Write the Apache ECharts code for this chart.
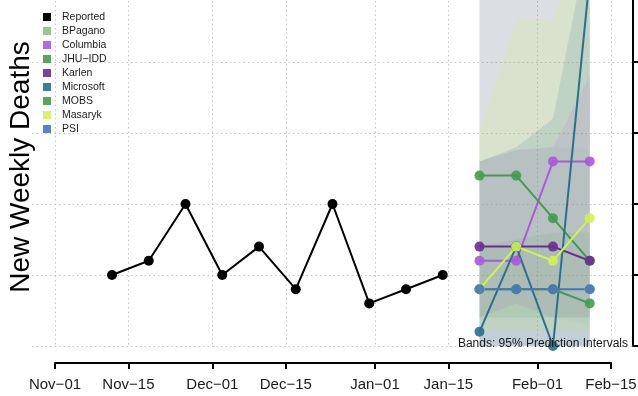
<!DOCTYPE html>
<html><head><meta charset="utf-8">
<script src="https://cdn.jsdelivr.net/npm/echarts@6/dist/echarts.min.js"></script>
<style>html,body{margin:0;padding:0;background:#fff}#c{width:638px;height:396px}</style>
</head><body><div id="c"></div>
<script>
// ---------- data ----------
const tickDates = ['2020-11-01','2020-11-15','2020-12-01','2020-12-15','2021-01-01','2021-01-15','2021-02-01','2021-02-15'];
const tickLabels = ['Nov\u221201','Nov\u221215','Dec\u221201','Dec\u221215','Jan\u221201','Jan\u221215','Feb\u221201','Feb\u221215'];
const yTickStep = 5;
const yMax = 30;

const reportedDates = ['2020-11-12','2020-11-19','2020-11-26','2020-12-03','2020-12-10','2020-12-17','2020-12-24','2020-12-31','2021-01-07','2021-01-14'];
const reported = [5, 6, 10, 5, 7, 4, 10, 3, 4, 5];

const forecastDates = ['2021-01-21','2021-01-28','2021-02-04','2021-02-11'];
const models = ['BPagano','Columbia','JHU\u2212IDD','Karlen','Microsoft','MOBS','Masaryk','PSI'];
const fcBPagano   = [4, 4, 4, 4];
const fcColumbia  = [6, 6, 13, 13];
const fcJHU       = [12, 12, 9, 6];
const fcKarlen    = [7, 7, 7, 6];
const fcMicrosoft = [1, 7, 0, 26];
const fcMOBS      = [4, 4, 4, 3];
const fcMasaryk   = [4, 7, 6, 9];
const fcPSI       = [4, 4, 4, 4];

// 95% prediction intervals (lower / upper)
const loPSI = [0, 0, 0, 0],          hiPSI = [45, 45, 45, 45];
const loKarlen = [0, 0, 0, 0],       hiKarlen = [45, 45, 45, 45];
const loBPagano = [0, 0, 0, 0],      hiBPagano = [45, 45, 45, 45];
const loMasaryk = [1.1, 1.1, 1.1, 1.1], hiMasaryk = [15, 23, 23, 30];
const loMicrosoft = [0, 0, 0, 0],    hiMicrosoft = [13, 14, 16, 29];
const loColumbia = [2, 3, 2, 2],     hiColumbia = [13, 13.8, 14, 19];
const loJHU = [2, 2, 2, 1.5],        hiJHU = [13, 13.8, 14, 13.8];
const loMOBS = [2, 2, 2, 2],         hiMOBS = [7, 7.5, 8, 8];

// ---------- styles ----------
const colors = {
  'Reported':'#000000','BPagano':'#8fbc8f','Columbia':'#a95ad8','JHU\u2212IDD':'#439b52',
  'Karlen':'#6a2d90','Microsoft':'#2a708c','MOBS':'#439b52','Masaryk':'#d2f05a','PSI':'#4b74bb'
};
const FONT = 'Liberation Sans, Arial, Helvetica, sans-serif';

// ---------- build ----------
const t = d => Date.parse(d);
const tickTs = tickDates.map(t);
const span = tickTs[tickTs.length-1] - tickTs[0];
const xMin = tickTs[0] - 0.04*span, xMax = tickTs[tickTs.length-1] + 0.04*span;

const forecasts = {'BPagano':fcBPagano,'Columbia':fcColumbia,'JHU\u2212IDD':fcJHU,'Karlen':fcKarlen,
  'Microsoft':fcMicrosoft,'MOBS':fcMOBS,'Masaryk':fcMasaryk,'PSI':fcPSI};

const bands = [
  ['PSI', loPSI, hiPSI, 0.08],
  ['Karlen', loKarlen, hiKarlen, 0.08],
  ['BPagano', loBPagano, hiBPagano, 0.12],
  ['Masaryk', loMasaryk, hiMasaryk, 0.16],
  ['Microsoft', loMicrosoft, hiMicrosoft, 0.14],
  ['Columbia', loColumbia, hiColumbia, 0.12],
  ['JHU\u2212IDD', loJHU, hiJHU, 0.04],
  ['MOBS', loMOBS, hiMOBS, 0.09]
];

const series = [];
bands.forEach(([name, lo, hi, a]) => {
  series.push({
    name: name + ' band', type: 'custom', xAxisIndex: 0, yAxisIndex: 0, silent: true, z: 1,
    data: [[t(forecastDates[0]), lo[0]]],
    renderItem: (params, api) => {
      const pts = [];
      for (let j = 0; j < forecastDates.length; j++) pts.push(api.coord([t(forecastDates[j]), hi[j]]));
      for (let j = forecastDates.length - 1; j >= 0; j--) pts.push(api.coord([t(forecastDates[j]), lo[j]]));
      const cs = params.coordSys;
      return {
        type: 'polygon', shape: {points: pts},
        style: {fill: colors[name], opacity: a},
        clipPath: {type: 'rect', shape: {x: cs.x, y: cs.y, width: cs.width, height: cs.height}}
      };
    }
  });
});

series.push({
  name: 'Reported', type: 'line', xAxisIndex: 0, yAxisIndex: 0,
  data: reportedDates.map((d, j) => [t(d), reported[j]]),
  symbol: 'circle', symbolSize: 10, color: '#000',
  lineStyle: {color: '#000', width: 2}, itemStyle: {color: '#000'}, z: 3, clip: false
});
models.forEach(m => {
  series.push({
    name: m, type: 'line', xAxisIndex: 0, yAxisIndex: 0,
    data: forecastDates.map((d, j) => [t(d), forecasts[m][j]]),
    symbol: 'circle', symbolSize: 10, color: colors[m], clip: false,
    lineStyle: {color: colors[m], width: 2}, itemStyle: {color: colors[m], opacity: 0.9}, z: 3
  });
});

const chart = echarts.init(document.getElementById('c'), null, {renderer: 'canvas'});
chart.setOption({
  animation: false,
  backgroundColor: '#ffffff',
  grid: [
    {left: 32, right: 5, top: -80, bottom: 50, containLabel: false, outerBoundsMode: 'none'},
    {left: 55, right: 27, top: -80, bottom: 50, containLabel: false, outerBoundsMode: 'none'}
  ],
  xAxis: [
    {type: 'value', gridIndex: 0, min: xMin, max: xMax, show: false, splitLine: {show: false}},
    {type: 'value', gridIndex: 1, min: tickTs[0], max: tickTs[tickTs.length-1], position: 'bottom', offset: 17,
     axisLine: {show: true, onZero: false, lineStyle: {color: '#000', width: 2}},
     axisTick: {show: true, inside: false, length: 6, customValues: tickTs, lineStyle: {color: '#000', width: 2}},
     axisLabel: {show: true, customValues: tickTs, margin: 14, fontSize: 15, fontFamily: FONT, color: '#1a1a1a',
       formatter: v => { const k = tickTs.indexOf(v); return k >= 0 ? tickLabels[k] : ''; }},
     splitLine: {show: true, lineStyle: {color: '#c4c4c4', width: 1, type: [1.5, 3]}}}
  ],
  yAxis: [
    {type: 'value', gridIndex: 0, position: 'right', min: 0, max: yMax, interval: yTickStep,
     axisLine: {show: true, onZero: false, lineStyle: {color: '#000', width: 2}},
     axisTick: {show: true, inside: false, length: 6, lineStyle: {color: '#000', width: 2}},
     axisLabel: {show: false},
     splitLine: {show: true, lineStyle: {color: '#c4c4c4', width: 1, type: [1.5, 3]}}},
    {type: 'value', gridIndex: 1, min: 0, max: 1, show: false, splitLine: {show: false}}
  ],
  legend: {
    data: ['Reported'].concat(models), orient: 'vertical', left: 38, top: 6,
    icon: 'rect', itemWidth: 8, itemHeight: 8, itemGap: 2,
    textStyle: {fontSize: 10.5, fontFamily: FONT, color: '#1a1a1a', lineHeight: 12, padding: [0, 0, 0, 6]},
    selectedMode: false
  },
  graphic: [
    {type: 'text', x: 21, y: 167, rotation: Math.PI / 2, z: 10,
     style: {text: 'New Weekly Deaths', fontSize: 28, fontFamily: FONT, fill: '#000', align: 'center', verticalAlign: 'middle'}},
    {type: 'text', x: 628, y: 344, z: 10,
     style: {text: 'Bands: 95% Prediction Intervals', fontSize: 12, fontFamily: FONT, fill: '#1a1a1a', align: 'right', verticalAlign: 'middle'}}
  ],
  series: series
});
</script></body></html>
